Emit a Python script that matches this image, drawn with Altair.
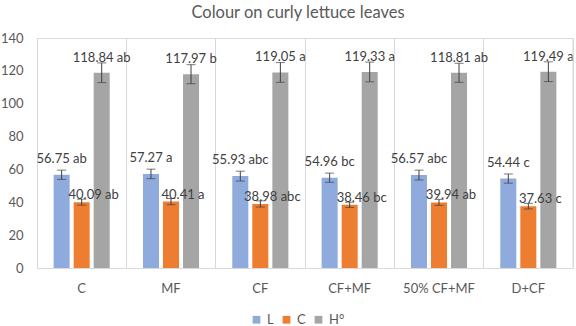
import altair as alt
import pandas as pd

categories = ["C", "MF", "CF", "CF+MF", "50% CF+MF", "D+CF"]
series = ["L", "C", "H°"]
L_vals = [56.75, 57.27, 55.93, 54.96, 56.57, 54.44]
C_vals = [40.09, 40.41, 38.98, 38.46, 39.94, 37.63]
H_vals = [118.84, 117.97, 119.05, 119.33, 118.81, 119.49]
L_err = [2.8, 2.9, 3.0, 2.8, 3.0, 2.8]
C_err = [1.8, 1.9, 1.9, 1.6, 1.8, 1.7]
H_err = [6.0, 5.8, 6.0, 6.0, 5.8, 6.0]
L_lab = ["ab", "a", "abc", "bc", "abc", "c"]
C_lab = ["ab", "a", "abc", "bc", "ab", "c"]
H_lab = ["ab", "b", "a", "a", "ab", "a"]
y_ticks = [0, 20, 40, 60, 80, 100, 120, 140]
colors = ["#8FAADC", "#ED7D31", "#A5A5A5"]

rows = []
for s, vals, errs, labs in [("L", L_vals, L_err, L_lab), ("C", C_vals, C_err, C_lab), ("H°", H_vals, H_err, H_lab)]:
    for cat, v, e, l in zip(categories, vals, errs, labs):
        rows.append({"cat": cat, "series": s, "value": v, "lo": v - e, "hi": v + e,
                     "label": f"{v:.2f} {l}"})
df = pd.DataFrame(rows)

W, H = 536, 230
FONT = "Lato"
TXT = "#595959"

x_axis = alt.Axis(labelAngle=0, labelColor=TXT, labelFontSize=13, labelFont=FONT,
                  labelPadding=14, ticks=False, domainColor="#D9D9D9",
                  grid=True, gridColor="#D9D9D9", bandPosition=0, title=None)
x_scale = alt.Scale(paddingInner=0, paddingOuter=0)
y_axis = alt.Axis(values=y_ticks, grid=False, domain=False, ticks=False,
                  labelOverlap=False, title=None,
                  labelColor=TXT, labelFontSize=13, labelFont=FONT, labelPadding=14)
y_scale = alt.Scale(domain=[0, 140], nice=False)

def X():
    return alt.X("cat:N", sort=categories, scale=x_scale, axis=x_axis)

def Y(f):
    return alt.Y(f, scale=y_scale, axis=y_axis)

xo = alt.XOffset("series:N", sort=series,
                 scale=alt.Scale(domain=series, paddingInner=0.2, paddingOuter=0.83))

base = alt.Chart(df)

bars = base.mark_bar().encode(
    x=X(), xOffset=xo, y=Y("value:Q"),
    color=alt.Color("series:N", sort=series,
                    scale=alt.Scale(domain=series, range=colors),
                    legend=alt.Legend(title=None, orient="none", direction="horizontal",
                                      legendX=213, legendY=275, symbolType="square",
                                      symbolSize=60, symbolStrokeWidth=0,
                                      labelFont=FONT, labelFontSize=13, labelColor=TXT,
                                      columnPadding=6, labelOffset=4)),
)

err = base.mark_rule(color="#404040", strokeWidth=1).encode(
    x=X(), xOffset=xo, y=Y("lo:Q"), y2="hi:Q")
cap_hi = base.mark_tick(color="#404040", thickness=1, size=9, orient="horizontal").encode(
    x=X(), xOffset=xo, y=Y("hi:Q"))
cap_lo = base.mark_tick(color="#404040", thickness=1, size=9, orient="horizontal").encode(
    x=X(), xOffset=xo, y=Y("lo:Q"))

def labels(s, dx, dy):
    return base.transform_filter(alt.datum.series == s).mark_text(
        font=FONT, fontSize=13, color="#404040", dx=dx, dy=dy, align="center"
    ).encode(x=X(), xOffset=xo, y=Y("value:Q"), text="label:N")

right_edge = alt.Chart(pd.DataFrame({"a": [0]})).mark_rule(color="#D9D9D9").encode(
    x=alt.value(W), y=alt.value(0), y2=alt.value(H))

chart = alt.layer(bars, err, cap_hi, cap_lo,
                  labels("L", 0, -16), labels("C", 12, -7), labels("H°", 0, -15),
                  right_edge).properties(
    width=W, height=H,
    title=alt.TitleParams("Colour on curly lettuce leaves", font=FONT, fontSize=16.5,
                          fontWeight="normal", color=TXT, anchor="middle", offset=11, dx=-7),
    autosize=alt.AutoSizeParams(type="none"),
    padding={"left": 37, "top": 38, "right": 3, "bottom": 58},
).configure_view(stroke=None).configure(background="white")

chart.save("out.html", embed_options={"renderer": "svg", "actions": False})
